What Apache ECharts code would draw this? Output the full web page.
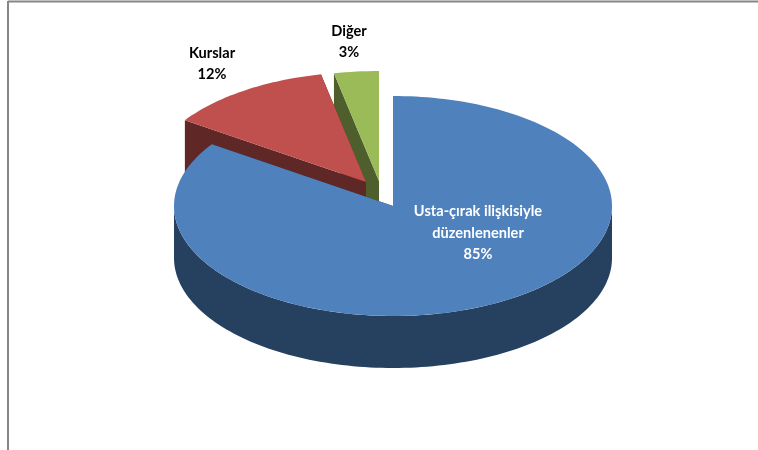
<!DOCTYPE html>
<html>
<head>
<meta charset="utf-8">
<style>
    html, body { margin: 0; padding: 0; background: #fff; }
    #chart { width: 758px; height: 450px; }
</style>
<script src="https://cdn.jsdelivr.net/npm/echarts@6/dist/echarts.min.js"></script>
</head>
<body>
<div id="chart"></div>
<script>
const categories = ["Usta-çırak ilişkisiyle\ndüzenlenenler", "Kurslar", "Diğer"];
const shares = [84.5, 12.2, 3.3];

const topColors = ["#4F81BD", "#C0504D", "#9BBB59"];
const wallColors = ["#264160", "#5F2726", "#4E5E2C"];
const labelColors = ["#FFFFFF", "#000000", "#000000"];

// exploded slice centres, px
const centers = [[393, 206], [366, 182], [379, 181]];
const labelPos = [[478, 233], [212, 64], [349, 42]];
const rx = 219;
const ry = 110;
const depth = 52;

const total = shares.reduce((a, b) => a + b, 0);

function rimPoint(c, deg, drop) {
    const r = deg * Math.PI / 180;
    return [c[0] + rx * Math.sin(r), c[1] - ry * Math.cos(r) + (drop || 0)];
}

function arc(c, from, to, drop) {
    const pts = [];
    const steps = Math.max(2, Math.ceil((to - from) / 1.5));
    for (let i = 0; i <= steps; i++) {
        pts.push(rimPoint(c, from + (to - from) * i / steps, drop));
    }
    return pts;
}

function renderSlice(params, api) {
    const i = params.dataIndex;
    const value = api.value(0);
    let before = 0;
    for (let k = 0; k < i; k++) before += shares[k];
    const from = before / total * 360;
    const to = (before + value) / total * 360;
    const c = centers[i];
    const z = 30 - i * 10; // back slices get painted first

    const children = [];
    const addPoly = (points, fill, z2) => children.push({
        type: "polygon",
        z2: z2,
        shape: { points: points },
        style: { fill: fill }
    });

    // cut faces
    [from, to].forEach(a => {
        const p = rimPoint(c, a);
        addPoly([c, p, [p[0], p[1] + depth], [c[0], c[1] + depth]], wallColors[i], z);
    });

    // outer wall, only the front half can be seen
    const a0 = Math.max(from, 90);
    const a1 = Math.min(to, 270);
    if (a1 > a0) {
        addPoly(arc(c, a0, a1, 0).concat(arc(c, a0, a1, depth).reverse()), wallColors[i], z + 1);
    }

    // top face
    addPoly([c].concat(arc(c, from, to, 0)), topColors[i], z + 2);

    children.push({
        type: "text",
        z2: 100,
        style: {
            x: labelPos[i][0],
            y: labelPos[i][1],
            text: categories[i] + "\n" + Math.round(value / total * 100) + "%",
            fill: labelColors[i],
            font: "bold 14.6px Lato",
            lineHeight: 21.5,
            align: "center",
            verticalAlign: "middle"
        }
    });

    return { type: "group", children: children };
}

const chart = echarts.init(document.getElementById("chart"), null, { renderer: "canvas" });

chart.setOption({
    animation: false,
    backgroundColor: "#fff",
    graphic: [
        { type: "line", silent: true, shape: { x1: 8, y1: 1.5, x2: 758, y2: 1.5 }, style: { stroke: "#868686", lineWidth: 2 } },
        { type: "line", silent: true, shape: { x1: 8, y1: 1, x2: 8, y2: 450 }, style: { stroke: "#868686", lineWidth: 2 } }
    ],
    series: [{
        type: "custom",
        coordinateSystem: "none",
        silent: true,
        renderItem: renderSlice,
        data: shares.map(v => [v])
    }]
});
</script>
</body>
</html>
